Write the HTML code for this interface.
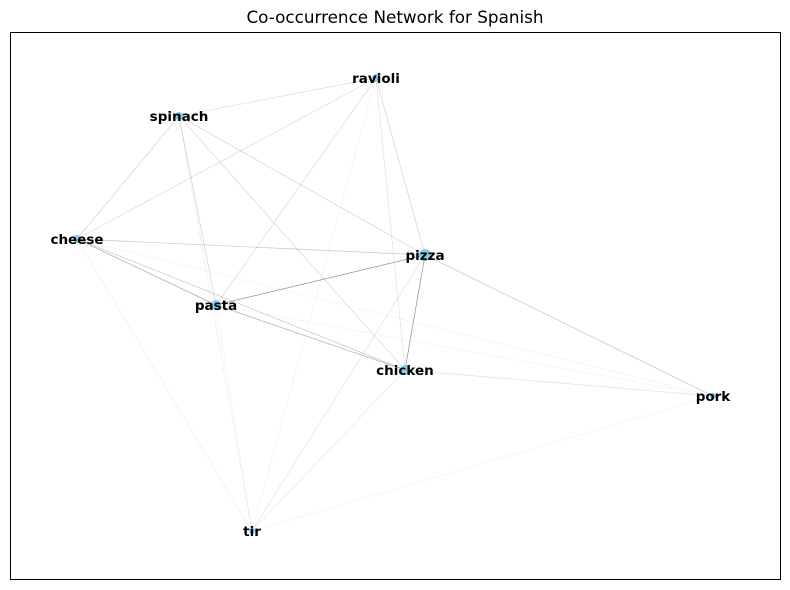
<!DOCTYPE html>
<html><head><meta charset="utf-8"><style>
html,body{margin:0;padding:0;background:#fff;}
svg{display:block;font-family:"DejaVu Sans","Liberation Sans",sans-serif;}
</style></head><body>
<svg id="chart" width="790" height="590">
<rect x="0" y="0" width="790" height="590" fill="#fff"/>
<text x="395" y="23" text-anchor="middle" font-size="16.8" fill="#000">Co-occurrence Network for Spanish</text>
<rect x="10.5" y="32.5" width="770" height="547" fill="none" stroke="#000" stroke-width="1"/>
<g id="edges"></g><g id="nodes"></g><g id="labels"></g>
</svg>
<script>
const nodeNames = ["ravioli","spinach","cheese","pizza","pasta","chicken","pork","tir"];
const nodeX = [376,179,77,425,216,405,713,252];
const nodeY = [78,116,239,255,305,370,396,531];
const nodeSize = [4,4,4,6,5,5,3,3];
const edgeSource = ["cheese","cheese","cheese","cheese","cheese","cheese","cheese","pasta","pasta","pasta","pasta","pasta","pasta","pizza","pizza","pizza","pizza","pizza","chicken","chicken","chicken","chicken","spinach","spinach","ravioli","tir"];
const edgeTarget = ["pizza","pasta","chicken","pork","spinach","ravioli","tir","pizza","chicken","spinach","ravioli","tir","pork","chicken","ravioli","spinach","pork","tir","ravioli","spinach","pork","tir","ravioli","tir","tir","pork"];
const edgeWeight = [0.22,0.35,0.22,0.06,0.18,0.15,0.07,0.42,0.32,0.18,0.15,0.06,0.05,0.45,0.18,0.18,0.22,0.12,0.12,0.16,0.12,0.1,0.12,0.08,0.06,0.06];
const ns="http://www.w3.org/2000/svg";
const idx=n=>nodeNames.indexOf(n);
const eg=document.getElementById('edges');
for(let i=0;i<edgeSource.length;i++){
  const a=idx(edgeSource[i]),b=idx(edgeTarget[i]);
  const l=document.createElementNS(ns,'line');
  l.setAttribute('x1',nodeX[a]);l.setAttribute('y1',nodeY[a]);
  l.setAttribute('x2',nodeX[b]);l.setAttribute('y2',nodeY[b]);
  l.setAttribute('stroke','#000');l.setAttribute('stroke-opacity',edgeWeight[i]);
  l.setAttribute('stroke-width',0.7);
  
  
  eg.appendChild(l);
}
const ng=document.getElementById('nodes'),lg=document.getElementById('labels');
for(let i=0;i<nodeNames.length;i++){
  const c=document.createElementNS(ns,'circle');
  c.setAttribute('cx',nodeX[i]);c.setAttribute('cy',nodeY[i]);c.setAttribute('r',nodeSize[i]);
  c.setAttribute('fill','#87ceeb');
  
  
  ng.appendChild(c);
  const t=document.createElementNS(ns,'text');
  t.setAttribute('x',nodeX[i]);t.setAttribute('y',nodeY[i]+5);
  t.setAttribute('text-anchor','middle');t.setAttribute('font-size','13.5');t.setAttribute('font-weight','bold');
  t.textContent=nodeNames[i];
  
  
  lg.appendChild(t);
}
</script>
</body></html>
